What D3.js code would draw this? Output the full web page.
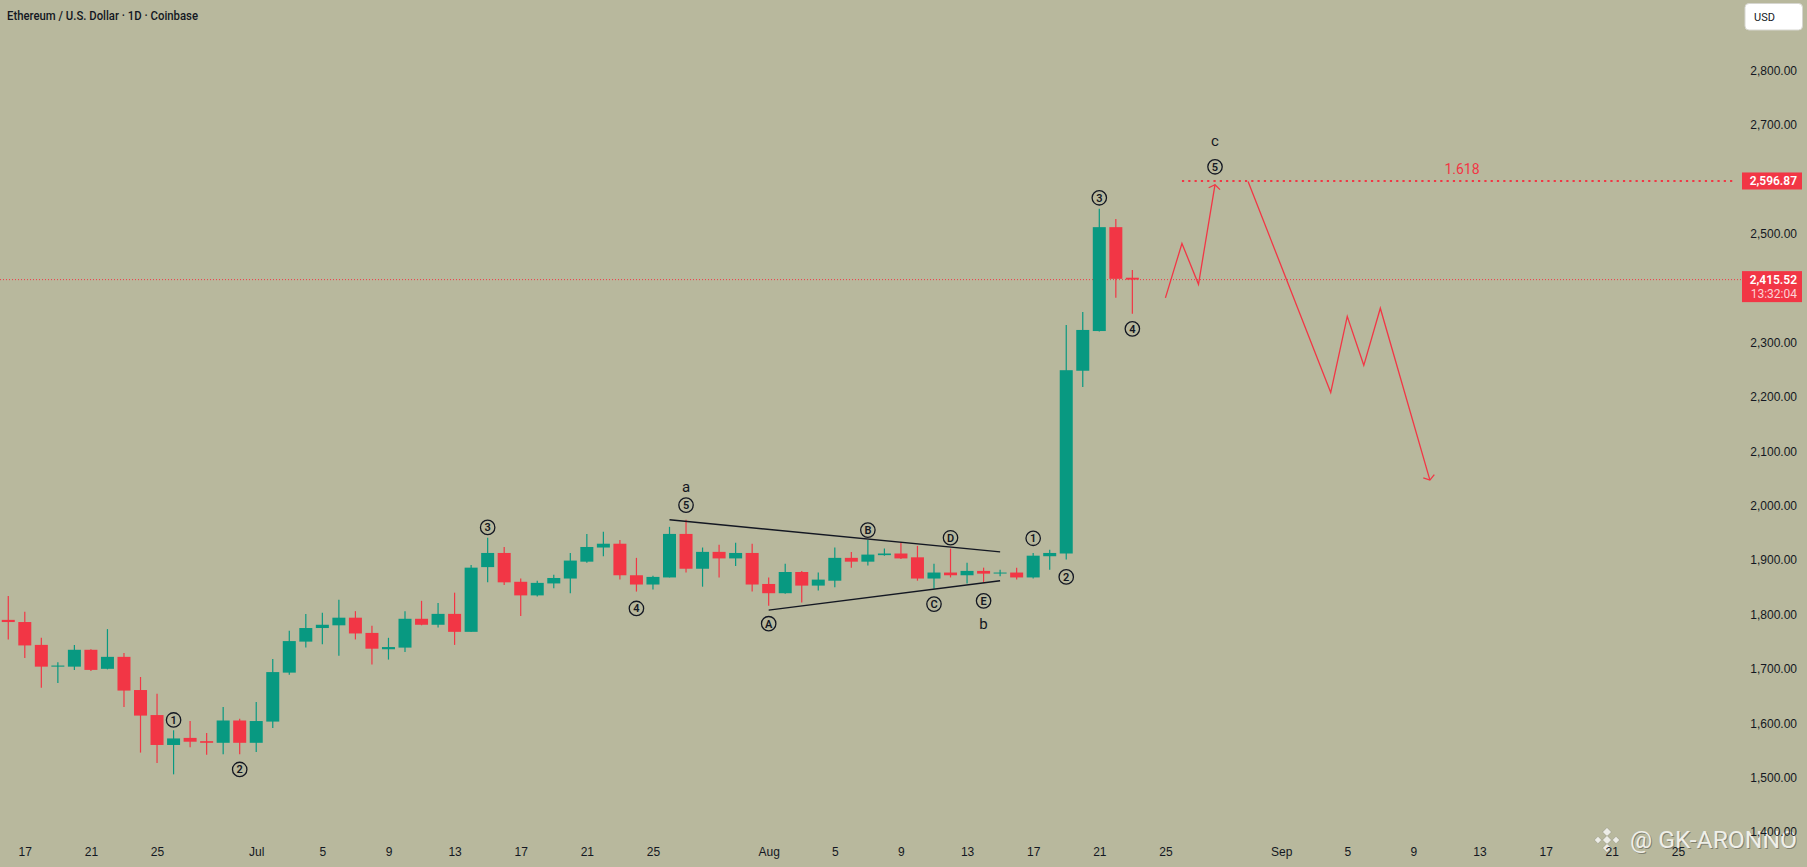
<!DOCTYPE html>
<html lang="en">
<head>
<meta charset="utf-8">
<title>Ethereum / U.S. Dollar · 1D · Coinbase</title>
<script src="https://d3js.org/d3.v7.min.js"></script>
<style>
  body { margin: 0; background: #b8b89d; }
  svg { display: block; font-family: Roboto, "Noto Sans", sans-serif; }
  .axis text { fill: #131722; font-size: 12px; }
  .axis .domain { display: none; }
  .wave-circle { fill: none; stroke: #131722; stroke-width: 1.3; }
  .wave-text { fill: #131722; font-size: 11px; font-weight: 600; text-anchor: middle; dominant-baseline: central; }
  .wave-letter { fill: #131722; font-size: 15px; text-anchor: middle; dominant-baseline: central; }
  .proj { fill: none; stroke: #f23645; stroke-width: 1.3; stroke-linejoin: miter; }
  .tri { stroke: #131722; stroke-width: 1.4; }
</style>
</head>
<body>
<div id="chart"></div>
<script>
// candles (daily)
const dates = [
  "2023-06-16","2023-06-17","2023-06-18","2023-06-19","2023-06-20","2023-06-21","2023-06-22","2023-06-23",
  "2023-06-24","2023-06-25","2023-06-26","2023-06-27","2023-06-28","2023-06-29","2023-06-30",
  "2023-07-01","2023-07-02","2023-07-03","2023-07-04","2023-07-05","2023-07-06","2023-07-07","2023-07-08",
  "2023-07-09","2023-07-10","2023-07-11","2023-07-12","2023-07-13","2023-07-14","2023-07-15","2023-07-16",
  "2023-07-17","2023-07-18","2023-07-19","2023-07-20","2023-07-21","2023-07-22","2023-07-23","2023-07-24",
  "2023-07-25","2023-07-26","2023-07-27","2023-07-28","2023-07-29","2023-07-30","2023-07-31",
  "2023-08-01","2023-08-02","2023-08-03","2023-08-04","2023-08-05","2023-08-06","2023-08-07","2023-08-08",
  "2023-08-09","2023-08-10","2023-08-11","2023-08-12","2023-08-13","2023-08-14","2023-08-15","2023-08-16",
  "2023-08-17","2023-08-18","2023-08-19","2023-08-20","2023-08-21","2023-08-22","2023-08-23"
];
const opens = [
  1790,1786,1744,1704,1704,1735,1700,1722,1661,1615,1560,1573,1567,1564,1605,
  1564,1603,1693,1750,1775,1780,1794,1766,1736,1739,1792,1781,1801,1768,1887,1913,
  1860,1835,1857,1866,1897,1923,1930,1872,1855,1868,1948,1884,1915,1903,1913,
  1856,1839,1878,1853,1862,1904,1897,1909,1912,1905,1866,1877,1872,1880,1876,1877,
  1868,1907,1912,2248,2321,2512,2419
];
const highs = [
  1834,1805,1757,1712,1744,1736,1773,1729,1685,1654,1587,1604,1582,1630,1608,
  1639,1718,1770,1801,1803,1827,1806,1779,1757,1806,1825,1821,1840,1891,1941,1924,
  1866,1862,1873,1913,1948,1952,1937,1904,1871,1961,1974,1923,1928,1932,1930,
  1868,1893,1880,1877,1923,1915,1937,1921,1932,1926,1893,1921,1895,1886,1882,1886,
  1913,1919,2332,2356,2546,2527,2433
];
const lows = [
  1754,1720,1665,1674,1698,1696,1699,1630,1546,1527,1506,1556,1542,1543,1543,
  1547,1591,1689,1739,1745,1724,1754,1708,1717,1731,1780,1776,1744,1768,1859,1854,
  1797,1833,1848,1839,1895,1907,1864,1842,1846,1868,1877,1851,1868,1889,1842,
  1816,1838,1822,1844,1850,1886,1890,1908,1902,1862,1847,1868,1857,1859,1870,1864,
  1866,1882,1901,2218,2320,2382,2353
];
const closes = [
  1786,1743,1704,1706,1735,1698,1722,1660,1614,1560,1572,1566,1564,1605,1564,
  1604,1694,1751,1775,1781,1794,1765,1737,1740,1792,1781,1801,1768,1886,1913,1859,
  1835,1858,1867,1899,1924,1930,1872,1855,1869,1948,1884,1915,1903,1913,1855,
  1839,1878,1853,1864,1904,1897,1910,1912,1903,1866,1877,1872,1880,1875,1877,1868,
  1908,1913,2249,2323,2512,2417,2415.52
];

// axis ticks
const tickDates = [
  "2023-06-17","2023-06-21","2023-06-25","2023-07-01","2023-07-05","2023-07-09","2023-07-13","2023-07-17",
  "2023-07-21","2023-07-25","2023-08-01","2023-08-05","2023-08-09","2023-08-13","2023-08-17","2023-08-21",
  "2023-08-25","2023-09-01","2023-09-05","2023-09-09","2023-09-13","2023-09-17","2023-09-21","2023-09-25"
];
const tickLabels = ["17","21","25","Jul","5","9","13","17","21","25","Aug","5","9","13","17","21","25","Sep","5","9","13","17","21","25"];
const priceTicks = [1400,1500,1600,1700,1800,1900,2000,2100,2200,2300,2400,2500,2600,2700,2800];

// drawings
const lastPrice = 2415.52;
const countdown = "13:32:04";
const fibLevel = 2596.87;
const fibStart = "2023-08-26";
const fibText = "1.618";
const triUpper = [["2023-07-26",1974],["2023-08-15",1915]];
const triLower = [["2023-08-01",1808],["2023-08-15",1862]];
const projUp = [["2023-08-25",2382],["2023-08-26",2482],["2023-08-27",2407],["2023-08-28",2590]];
const projDown = [["2023-08-30",2596],["2023-09-04",2208],["2023-09-05",2348],["2023-09-06",2258],["2023-09-07",2363],["2023-09-10",2047]];
const waveMarks = [
  ["1","2023-06-26",1606],["2","2023-06-30",1515],["3","2023-07-15",1960],["4","2023-07-24",1811],["5","2023-07-27",2001],
  ["A","2023-08-01",1783],["B","2023-08-07",1955],["C","2023-08-11",1819],["D","2023-08-12",1941],["E","2023-08-14",1825],
  ["1","2023-08-17",1940],["2","2023-08-19",1869],["3","2023-08-21",2566],["4","2023-08-23",2325],["5","2023-08-28",2623]
];
const waveLetters = [["a","2023-07-27",2035],["b","2023-08-14",1783],["c","2023-08-28",2671]];

const W = 1807, H = 867;
const plotRight = 1742;
const up = "#089981", down = "#f23645";
const parse = d3.utcParse("%Y-%m-%d");

// 105.5 days across 1744px
const x = d3.scaleUtc()
  .domain([new Date(Date.UTC(2023, 5, 15, 12)), new Date(Date.UTC(2023, 8, 29))])
  .range([0, 1744]);
const y = d3.scaleLinear().domain([1400, 2800]).range([832, 70.5]);
const px = d => x(parse(d));

const svg = d3.select("#chart").append("svg")
  .attr("width", W).attr("height", H)
  .attr("viewBox", `0 0 ${W} ${H}`);

svg.append("rect").attr("width", W).attr("height", H).attr("fill", "#b8b89d");

// title
svg.append("text")
  .attr("x", 7).attr("y", 20)
  .attr("fill", "#131722")
  .attr("font-size", 13).attr("font-weight", 500)
  .attr("textLength", 191).attr("lengthAdjust", "spacingAndGlyphs")
  .text("Ethereum / U.S. Dollar · 1D · Coinbase");

// watermark
const wm = svg.append("g").attr("opacity", 0.92);
const lx = 1607, ly = 840;
[[0, -8, 3.2], [-9, 0, 2.6], [9, 0, 2.6], [0, 0, 3.2], [0, 8, 3.2]].forEach(([dx, dy, s]) => {
  wm.append("rect")
    .attr("x", lx + dx - s).attr("y", ly + dy - s)
    .attr("width", s * 2).attr("height", s * 2)
    .attr("transform", `rotate(45 ${lx + dx} ${ly + dy})`)
    .attr("fill", "#f2f2ee").attr("stroke", "#8a8a78").attr("stroke-width", 0.5);
});
wm.append("text")
  .attr("x", 1631).attr("y", 849)
  .attr("fill", "#7c7c6c").attr("font-size", 23)
  .attr("textLength", 167).attr("lengthAdjust", "spacingAndGlyphs")
  .text("@ GK-ARONNO");
wm.append("text")
  .attr("x", 1630).attr("y", 848)
  .attr("fill", "#f4f4f0").attr("font-size", 23)
  .attr("textLength", 167).attr("lengthAdjust", "spacingAndGlyphs")
  .text("@ GK-ARONNO");

// current price line
svg.append("line")
  .attr("x1", 0).attr("x2", plotRight)
  .attr("y1", y(lastPrice)).attr("y2", y(lastPrice))
  .attr("stroke", down).attr("stroke-width", 1).attr("stroke-dasharray", "1,2");

// fib level
svg.append("line")
  .attr("x1", px(fibStart)).attr("x2", plotRight - 6)
  .attr("y1", y(fibLevel)).attr("y2", y(fibLevel))
  .attr("stroke", down).attr("stroke-width", 2.2).attr("stroke-dasharray", "2.2,4.1");
svg.append("text")
  .attr("x", (px(fibStart) + plotRight) / 2).attr("y", y(fibLevel) - 12)
  .attr("fill", down).attr("font-size", 14)
  .attr("text-anchor", "middle").attr("dominant-baseline", "central")
  .text(fibText);

// candles
const candles = dates.map((d, i) => ({ date: d, o: opens[i], h: highs[i], l: lows[i], c: closes[i] }));
const cg = svg.append("g");
cg.selectAll("line.wick").data(candles).join("line")
  .attr("class", "wick")
  .attr("x1", d => px(d.date)).attr("x2", d => px(d.date))
  .attr("y1", d => y(d.h)).attr("y2", d => y(d.l))
  .attr("stroke", d => d.c >= d.o ? up : down).attr("stroke-width", 1.2);
cg.selectAll("rect.body").data(candles).join("rect")
  .attr("class", "body")
  .attr("x", d => px(d.date) - 6.5).attr("width", 13)
  .attr("y", d => y(Math.max(d.o, d.c)))
  .attr("height", d => Math.max(1, Math.abs(y(d.o) - y(d.c))))
  .attr("fill", d => d.c >= d.o ? up : down);

// triangle
[triUpper, triLower].forEach(seg => {
  svg.append("line").attr("class", "tri")
    .attr("x1", px(seg[0][0])).attr("y1", y(seg[0][1]))
    .attr("x2", px(seg[1][0])).attr("y2", y(seg[1][1]));
});

// projections with open arrowheads
const line = d3.line().x(d => px(d[0])).y(d => y(d[1]));
[projUp, projDown].forEach(path => {
  svg.append("path").attr("class", "proj").attr("d", line(path));
  const a = path[path.length - 2], b = path[path.length - 1];
  const tx = px(b[0]), ty = y(b[1]);
  const ang = Math.atan2(y(a[1]) - ty, px(a[0]) - tx);
  const len = 7, spread = 55 * Math.PI / 180;
  const w1 = [tx + len * Math.cos(ang + spread), ty + len * Math.sin(ang + spread)];
  const w2 = [tx + len * Math.cos(ang - spread), ty + len * Math.sin(ang - spread)];
  svg.append("path").attr("class", "proj")
    .attr("d", `M${w1[0]},${w1[1]}L${tx},${ty}L${w2[0]},${w2[1]}`);
});

// wave labels
const wg = svg.append("g");
waveMarks.forEach(([t, d, p]) => {
  wg.append("circle").attr("class", "wave-circle")
    .attr("cx", px(d)).attr("cy", y(p)).attr("r", 7.2);
  wg.append("text").attr("class", "wave-text")
    .attr("x", px(d)).attr("y", y(p) + 0.5).text(t);
});
waveLetters.forEach(([t, d, p]) => {
  wg.append("text").attr("class", "wave-letter")
    .attr("x", px(d)).attr("y", y(p)).text(t);
});

// time axis
const xAxis = d3.axisBottom(x)
  .tickValues(tickDates.map(parse))
  .tickFormat((d, i) => tickLabels[i])
  .tickSize(0).tickPadding(0);
svg.append("g").attr("class", "axis")
  .attr("transform", "translate(0,847.5)")
  .call(xAxis);

// price axis
const yAxis = d3.axisRight(y)
  .tickValues(priceTicks)
  .tickFormat(d3.format(",.2f"))
  .tickSize(0);
const ya = svg.append("g").attr("class", "axis")
  .attr("transform", "translate(1797,0)")
  .call(yAxis);
ya.selectAll("text").attr("x", 0).attr("text-anchor", "end");

// price labels
const fy = y(fibLevel);
svg.append("rect").attr("x", plotRight).attr("y", fy - 8.5).attr("width", 60).attr("height", 17).attr("fill", down);
svg.append("text").attr("x", 1797).attr("y", fy).attr("dominant-baseline", "central")
  .attr("text-anchor", "end").attr("fill", "#fff").attr("font-size", 12).attr("font-weight", 600)
  .text(d3.format(",.2f")(fibLevel));

const ly2 = y(lastPrice);
svg.append("rect").attr("x", plotRight).attr("y", ly2 - 8.5).attr("width", 60).attr("height", 31).attr("fill", down);
svg.append("text").attr("x", 1797).attr("y", ly2).attr("dominant-baseline", "central")
  .attr("text-anchor", "end").attr("fill", "#fff").attr("font-size", 12).attr("font-weight", 600)
  .text(d3.format(",.2f")(lastPrice));
svg.append("text").attr("x", 1797).attr("y", ly2 + 14.5).attr("dominant-baseline", "central")
  .attr("text-anchor", "end").attr("fill", "#fff").attr("fill-opacity", 0.78).attr("font-size", 12)
  .text(countdown);

// currency button
svg.append("rect").attr("x", 1745).attr("y", 3.5).attr("width", 57.5).attr("height", 26.5)
  .attr("rx", 4).attr("fill", "#fff").attr("stroke", "#d6d6d0");
svg.append("text").attr("x", 1754).attr("y", 17).attr("dominant-baseline", "central")
  .attr("fill", "#131722").attr("font-size", 11).text("USD");
</script>
</body>
</html>
